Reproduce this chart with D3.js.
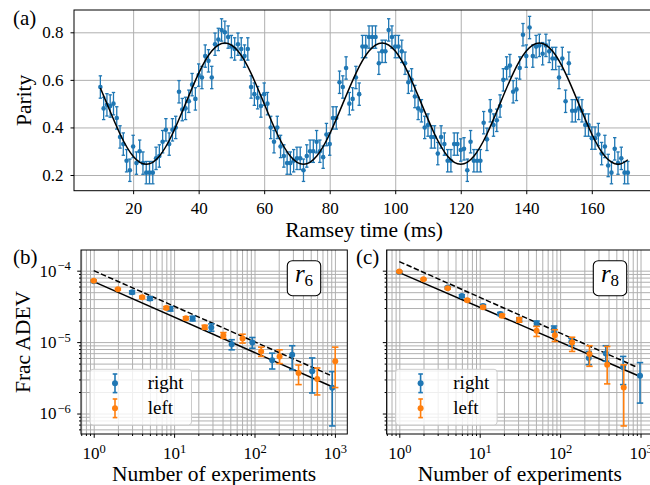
<!DOCTYPE html>
<html>
<head>
<meta charset="utf-8">
<script src="https://cdn.jsdelivr.net/npm/d3@7"></script>
<style>
  body { margin: 0; background: #fff; }
  svg { display: block; }
  svg text { font-family: "Liberation Serif", "Times New Roman", serif; }
</style>
</head>
<body>
<div id="fig"></div>
<script>
/* ---- (a) Ramsey fringe: parity vs Ramsey time ---- */
const ramseyTime = [
  10, 11, 12, 13, 14, 15, 16, 17, 18, 19, 20, 21, 22, 23, 24, 25, 26, 27, 28, 29,
  30, 31, 32, 33, 34, 35, 36, 37, 38, 39, 40, 41, 42, 43, 44, 45, 46, 47, 48, 49,
  50, 51, 52, 53, 54, 55, 56, 57, 58, 59, 60, 61, 62, 63, 64, 65, 66, 67, 68, 69,
  70, 71, 72, 73, 74, 75, 76, 77, 78, 79, 80, 81, 82, 83, 84, 85, 86, 87, 88, 89,
  90, 91, 92, 93, 94, 95, 96, 97, 98, 99, 100, 101, 102, 103, 104, 105, 106, 107, 108, 109,
  110, 111, 112, 113, 114, 115, 116, 117, 118, 119, 120, 121, 122, 123, 124, 125, 126, 127, 128, 129,
  130, 131, 132, 133, 134, 135, 136, 137, 138, 139, 140, 141, 142, 143, 144, 145, 146, 147, 148, 149,
  150, 151, 152, 153, 154, 155, 156, 157, 158, 159, 160, 161, 162, 163, 164, 165, 166, 167, 168, 169,
  170, 171
];
const parity = [
  0.57, 0.48, 0.495, 0.49, 0.50, 0.44, 0.36, 0.33, 0.26, 0.22,
  0.32, 0.25, 0.30, 0.25, 0.21, 0.21, 0.21, 0.27, 0.28, 0.34,
  0.39, 0.33, 0.39, 0.40, 0.55, 0.475, 0.48, 0.51, 0.58, 0.52,
  0.62, 0.61, 0.70, 0.68, 0.61, 0.75, 0.77, 0.81, 0.80, 0.78,
  0.74, 0.73, 0.75, 0.73, 0.70, 0.73, 0.57, 0.54, 0.525, 0.49,
  0.54, 0.50, 0.40, 0.34, 0.40, 0.32, 0.28, 0.25, 0.25, 0.26,
  0.27, 0.27, 0.22, 0.28, 0.30, 0.30, 0.34, 0.30, 0.275, 0.37,
  0.33, 0.44, 0.44, 0.59, 0.57, 0.65, 0.50, 0.52, 0.61, 0.54,
  0.74, 0.74, 0.78, 0.78, 0.78, 0.67, 0.72, 0.72, 0.81, 0.78,
  0.74, 0.74, 0.72, 0.67, 0.59, 0.60, 0.53, 0.48, 0.47, 0.40,
  0.41, 0.36, 0.36, 0.29, 0.36, 0.33, 0.26, 0.26, 0.33, 0.33,
  0.305, 0.31, 0.22, 0.34, 0.26, 0.26, 0.26, 0.42, 0.35, 0.47,
  0.41, 0.43, 0.49, 0.60, 0.65, 0.66, 0.55, 0.56, 0.65, 0.79,
  0.70, 0.82, 0.70, 0.74, 0.745, 0.71, 0.745, 0.72, 0.69, 0.69,
  0.61, 0.69, 0.51, 0.67, 0.47, 0.47, 0.48, 0.47, 0.41, 0.41,
  0.355, 0.355, 0.37, 0.29, 0.32, 0.24, 0.21, 0.31, 0.25, 0.27,
  0.21, 0.21
];
const parityErr = 0.047;

// fit curve, every 4 ms
const fitTime = [10, 12, 16, 20, 24, 28, 32, 36, 40, 44, 48, 52, 56, 60, 64, 68, 72, 76, 80, 84,
  88, 92, 96, 100, 104, 108, 112, 116, 120, 124, 128, 132, 136, 140, 144, 148, 152, 156, 160,
  164, 168, 171];
const fitParity = [0.566, 0.5, 0.3725, 0.279, 0.245, 0.279, 0.3725, 0.5, 0.6275, 0.721, 0.755,
  0.721, 0.6275, 0.5, 0.3725, 0.279, 0.245, 0.279, 0.3725, 0.5, 0.6275, 0.721, 0.755, 0.721,
  0.6275, 0.5, 0.3725, 0.279, 0.245, 0.279, 0.3725, 0.5, 0.6275, 0.721, 0.755, 0.721, 0.6275,
  0.5, 0.3725, 0.279, 0.245, 0.264];

const timeTicks = [20, 40, 60, 80, 100, 120, 140, 160];
const parityTicks = [0.2, 0.4, 0.6, 0.8];

/* ---- (b) r6 Allan deviation ---- */
const r6RightN = [1, 3, 5, 9, 17, 29, 52, 94, 166, 294, 522, 927];
const r6Right = [7.1e-5, 4.99e-5, 4.07e-5, 2.92e-5, 2.14e-5, 1.6e-5, 9.3e-6, 9.9e-6, 5.55e-6, 6.65e-6, 3.9e-6, 2.3e-6];
const r6RightLo = [6.9e-5, 4.75e-5, 3.85e-5, 2.72e-5, 1.98e-5, 1.42e-5, 7.8e-6, 8.2e-6, 4.2e-6, 4.1e-6, 1.94e-6, 6.7e-7];
const r6RightHi = [7.3e-5, 5.2e-5, 4.3e-5, 3.14e-5, 2.3e-5, 1.8e-5, 1.08e-5, 1.16e-5, 7.0e-6, 8.9e-6, 6.0e-6, 3.86e-6];

const r6LeftN = [1, 2, 4, 8, 14, 24, 41, 71, 121, 205, 353, 603, 1009];
const r6Left = [7.24e-5, 5.5e-5, 4.25e-5, 3.01e-5, 2.16e-5, 1.62e-5, 1.24e-5, 1.12e-5, 7.4e-6, 6.3e-6, 3.69e-6, 3.05e-6, 5.4e-6];
const r6LeftLo = [7.05e-5, 5.35e-5, 4.1e-5, 2.88e-5, 2.06e-5, 1.52e-5, 1.13e-5, 9.7e-6, 6.3e-6, 5.0e-6, 2.54e-6, 1.82e-6, 2.31e-6];
const r6LeftHi = [7.45e-5, 5.65e-5, 4.4e-5, 3.14e-5, 2.26e-5, 1.72e-5, 1.36e-5, 1.29e-5, 8.5e-6, 7.8e-6, 4.78e-6, 4.34e-6, 8.5e-6];

const r6SolidN = [1, 912], r6Solid = [7.03e-5, 2.39e-6];
const r6DashN = [1, 912], r6Dash = [1.0e-4, 3.37e-6];

/* ---- (c) r8 Allan deviation ---- */
const r8RightN = [1, 4, 6, 11, 18, 31, 51, 84, 138, 227, 370, 608, 986];
const r8Right = [9.6e-5, 5.8e-5, 4.43e-5, 3.21e-5, 2.48e-5, 2.07e-5, 1.82e-5, 1.53e-5, 1.01e-5, 5.98e-6, 6.95e-6, 4.48e-6, 3.37e-6];
const r8RightLo = [9.4e-5, 5.6e-5, 4.25e-5, 3.07e-5, 2.36e-5, 1.96e-5, 1.67e-5, 1.38e-5, 8.9e-6, 4.83e-6, 5.39e-6, 2.54e-6, 1.4e-6];
const r8RightHi = [9.8e-5, 6.0e-5, 4.6e-5, 3.35e-5, 2.6e-5, 2.18e-5, 1.97e-5, 1.68e-5, 1.13e-5, 7.4e-6, 8.9e-6, 6.3e-6, 5.16e-6];

const r8LeftN = [1, 2, 4, 7, 11, 19, 31, 51, 86, 141, 232, 385, 618];
const r8Left = [9.7e-5, 7.57e-5, 5.67e-5, 3.86e-5, 3.07e-5, 2.33e-5, 2.05e-5, 1.44e-5, 1.25e-5, 9.9e-6, 6.8e-6, 4.83e-6, 2.31e-6];
const r8LeftLo = [9.5e-5, 7.4e-5, 5.5e-5, 3.72e-5, 2.95e-5, 2.22e-5, 1.9e-5, 1.2e-5, 1.02e-5, 7.4e-6, 4.58e-6, 2.6e-6, 6.7e-7];
const r8LeftHi = [9.9e-5, 7.75e-5, 5.85e-5, 4.0e-5, 3.2e-5, 2.44e-5, 2.2e-5, 1.66e-5, 1.49e-5, 1.17e-5, 8.9e-6, 8.7e-6, 4.8e-6];

const r8SolidN = [1, 986], r8Solid = [9.4e-5, 3.3e-6];
const r8DashN = [1, 905], r8Dash = [1.34e-4, 4.45e-6];

const logXTicks = [1, 10, 100, 1000];
const logYTicks = [1e-6, 1e-5, 1e-4];
const seriesNames = ["right", "left"];

/* couleurs de matplotlib */
const blue = "#1f77b4", orange = "#ff7f0e", grey = "#b0b0b0";

const svg = d3.select("#fig").append("svg")
    .attr("width", 650)
    .attr("height", 485)
    .attr("viewBox", [0, 0, 650, 485]);

function styleAxis(g, size) {
  g.attr("font-family", null).attr("font-size", null);
  g.select(".domain").remove();
  g.selectAll(".tick line").attr("stroke", "#000").attr("stroke-width", 1);
  g.selectAll(".tick text").attr("fill", "#000").style("font-size", size + "px");
}

function gridLines(g, axis) {
  g.call(axis.tickFormat(""));
  g.attr("font-family", null).attr("font-size", null);
  g.select(".domain").remove();
  g.selectAll(".tick text").remove();
  g.selectAll(".tick line").attr("stroke", grey).attr("stroke-width", 1);
}

function isDecade(d) {
  const l = Math.log10(d);
  return Math.abs(l - Math.round(l)) < 1e-6;
}

// barres d'erreur verticales avec caps, puis les marqueurs par-dessus
function errorbars(g, x, y, xs, lo, hi, vals, color, r, cap, lw) {
  const pts = xs.map((d, i) => ({x: d, v: vals[i], lo: lo[i], hi: hi[i]}));
  const bars = g.append("g").attr("stroke", color).attr("stroke-width", lw);
  bars.selectAll(".bar").data(pts).join("line")
      .attr("x1", d => x(d.x)).attr("x2", d => x(d.x))
      .attr("y1", d => y(d.lo)).attr("y2", d => y(d.hi));
  bars.selectAll(".caplo").data(pts).join("line")
      .attr("x1", d => x(d.x) - cap).attr("x2", d => x(d.x) + cap)
      .attr("y1", d => y(d.lo)).attr("y2", d => y(d.lo));
  bars.selectAll(".caphi").data(pts).join("line")
      .attr("x1", d => x(d.x) - cap).attr("x2", d => x(d.x) + cap)
      .attr("y1", d => y(d.hi)).attr("y2", d => y(d.hi));
  g.append("g").selectAll("circle").data(pts).join("circle")
      .attr("cx", d => x(d.x)).attr("cy", d => y(d.v))
      .attr("r", r).attr("fill", color);
}

/* ================= panel (a) ================= */
const aL = 74, aT = 10, aB = 190.7, aR = 654.2;
const xa = d3.scaleLinear().domain([1.95, 179.05]).range([aL, aR]);
const ya = d3.scaleLinear().domain([0.134, 0.8938]).range([aB, aT]);

const ga = svg.append("g");
ga.append("g").attr("transform", `translate(0,${aB})`)
    .call(g => gridLines(g, d3.axisBottom(xa).tickValues(timeTicks).tickSize(-(aB - aT))));
ga.append("g").attr("transform", `translate(${aL},0)`)
    .call(g => gridLines(g, d3.axisLeft(ya).tickValues(parityTicks).tickSize(-(aR - aL))));

errorbars(ga, xa, ya, ramseyTime,
  parity.map(v => v - parityErr), parity.map(v => v + parityErr), parity,
  blue, 2.3, 1.7, 1.3);

ga.append("path")
    .datum(fitTime.map((t, i) => [t, fitParity[i]]))
    .attr("fill", "none")
    .attr("stroke", "#000")
    .attr("stroke-width", 1.5)
    .attr("d", d3.line().x(d => xa(d[0])).y(d => ya(d[1])).curve(d3.curveNatural));

ga.append("rect")
    .attr("x", aL).attr("y", aT).attr("width", aR - aL).attr("height", aB - aT)
    .attr("fill", "none").attr("stroke", "#000").attr("stroke-width", 1);

ga.append("g").attr("transform", `translate(0,${aB})`)
    .call(d3.axisBottom(xa).tickValues(timeTicks).tickSize(3.5).tickPadding(7.5))
    .call(g => styleAxis(g, 17));
ga.append("g").attr("transform", `translate(${aL},0)`)
    .call(d3.axisLeft(ya).tickValues(parityTicks).tickSize(3.5).tickPadding(7).tickFormat(d3.format(".1f")))
    .call(g => styleAxis(g, 17));

ga.append("text").attr("x", (aL + aR) / 2).attr("y", 237)
    .attr("text-anchor", "middle").style("font-size", "21.5px").text("Ramsey time (ms)");
ga.append("text").attr("transform", `translate(31,${(aT + aB) / 2}) rotate(-90)`)
    .attr("text-anchor", "middle").style("font-size", "21.5px").text("Parity");
ga.append("text").attr("x", 13).attr("y", 25).style("font-size", "21px").text("(a)");

/* ================= panels (b) and (c) ================= */
const bT = 250, bB = 434;
const logDomainX = [10 ** -0.158, 10 ** 3.154];
const logDomainY = [10 ** -6.2867, 10 ** -3.7105];

function adevPanel(opt) {
  const x = d3.scaleLog().domain(logDomainX).range([opt.left, opt.right]);
  const y = d3.scaleLog().domain(logDomainY).range([bB, bT]);
  const g = svg.append("g");

  const clipId = "clip" + opt.tag;
  g.append("clipPath").attr("id", clipId).append("rect")
      .attr("x", opt.left).attr("y", bT).attr("width", opt.right - opt.left).attr("height", bB - bT);

  const minorX = x.ticks().filter(d => !isDecade(d));
  const minorY = y.ticks().filter(d => !isDecade(d));

  const grid = g.append("g").attr("clip-path", `url(#${clipId})`);
  grid.append("g").attr("transform", `translate(0,${bB})`)
      .call(s => gridLines(s, d3.axisBottom(x).tickValues(minorX.concat(logXTicks)).tickSize(-(bB - bT))));
  grid.append("g").attr("transform", `translate(${opt.left},0)`)
      .call(s => gridLines(s, d3.axisLeft(y).tickValues(minorY.concat(logYTicks)).tickSize(-(opt.right - opt.left))));

  const lineGen = d3.line().x(d => x(d[0])).y(d => y(d[1]));
  g.append("path").datum(opt.solidN.map((n, i) => [n, opt.solid[i]]))
      .attr("fill", "none").attr("stroke", "#000").attr("stroke-width", 1.5).attr("d", lineGen);
  g.append("path").datum(opt.dashN.map((n, i) => [n, opt.dash[i]]))
      .attr("fill", "none").attr("stroke", "#000").attr("stroke-width", 1.5)
      .attr("stroke-dasharray", "5.5,2.4").attr("d", lineGen);

  errorbars(g, x, y, opt.rightN, opt.rightLo, opt.rightHi, opt.right_, blue, 3, 3.2, 1.6);
  errorbars(g, x, y, opt.leftN, opt.leftLo, opt.leftHi, opt.left_, orange, 3, 3.2, 1.6);

  g.append("rect")
      .attr("x", opt.left).attr("y", bT).attr("width", opt.right - opt.left).attr("height", bB - bT)
      .attr("fill", "none").attr("stroke", "#000").attr("stroke-width", 1);

  // axe x, majeur + mineur
  g.append("g").attr("transform", `translate(0,${bB})`)
      .call(d3.axisBottom(x).tickValues(minorX).tickSize(2).tickFormat(""))
      .call(s => styleAxis(s, 17));
  const xAx = g.append("g").attr("transform", `translate(0,${bB})`)
      .call(d3.axisBottom(x).tickValues(logXTicks).tickSize(3.8).tickPadding(8.8))
      .call(s => styleAxis(s, 17));
  xAx.selectAll(".tick text").text(null).each(function(d) {
    const t = d3.select(this);
    t.append("tspan").text("10");
    t.append("tspan").attr("dy", "-0.45em").style("font-size", "12.5px").text(Math.round(Math.log10(d)));
  });

  // axe y, majeur + mineur
  g.append("g").attr("transform", `translate(${opt.left},0)`)
      .call(d3.axisLeft(y).tickValues(minorY).tickSize(2).tickFormat(""))
      .call(s => styleAxis(s, 17));
  const yAx = g.append("g").attr("transform", `translate(${opt.left},0)`)
      .call(d3.axisLeft(y).tickValues(logYTicks).tickSize(3.8).tickPadding(6.5))
      .call(s => styleAxis(s, 17));
  yAx.selectAll(".tick text").text(null).each(function(d) {
    if (!opt.yLabels) return;
    const t = d3.select(this);
    t.append("tspan").text("10");
    t.append("tspan").attr("dy", "-0.5em").attr("dx", 1).style("font-size", "12.5px")
        .text("\u2212" + Math.abs(Math.round(Math.log10(d))));
  });

  g.append("text").attr("x", (opt.left + opt.right) / 2).attr("y", 481)
      .attr("text-anchor", "middle").style("font-size", "21.5px").text("Number of experiments");
  g.append("text").attr("x", opt.tagX).attr("y", 264).style("font-size", "21px").text(`(${opt.tag})`);

  // légende
  const lg = g.append("g").attr("transform", `translate(${opt.left + 9},369.3)`);
  lg.append("rect").attr("width", 101.5).attr("height", 55.7).attr("rx", 3)
      .attr("fill", "#fff").attr("fill-opacity", 0.8).attr("stroke", "#cccccc").attr("stroke-width", 1);
  [blue, orange].forEach((c, i) => {
    const cy = 14 + i * 25;
    const h = lg.append("g").attr("stroke", c).attr("stroke-width", 1.6);
    h.append("line").attr("x1", 25).attr("x2", 25).attr("y1", cy - 9.3).attr("y2", cy + 9.3);
    h.append("line").attr("x1", 22.7).attr("x2", 27.3).attr("y1", cy - 9.3).attr("y2", cy - 9.3);
    h.append("line").attr("x1", 22.7).attr("x2", 27.3).attr("y1", cy + 9.3).attr("y2", cy + 9.3);
    lg.append("circle").attr("cx", 25).attr("cy", cy).attr("r", 3).attr("fill", c);
    lg.append("text").attr("x", 57.7).attr("y", cy + 6).style("font-size", "19px").text(seriesNames[i]);
  });

  // boîte r6 / r8
  const bx = g.append("g").attr("transform", `translate(${opt.boxX},260.7)`);
  bx.append("rect").attr("width", 33.4).attr("height", 35).attr("rx", 5)
      .attr("fill", "#fff").attr("stroke", "#000").attr("stroke-width", 1.1);
  const bt = bx.append("text").attr("x", 16.7).attr("y", 21).attr("text-anchor", "middle");
  bt.append("tspan").style("font-size", "25px").style("font-style", "italic").text("r");
  bt.append("tspan").attr("dy", 4).style("font-size", "17px").text(opt.sub);
}

adevPanel({
  tag: "b", left: 81, right: 347.3, tagX: 13, boxX: 287.3, sub: "6", yLabels: true,
  rightN: r6RightN, right_: r6Right, rightLo: r6RightLo, rightHi: r6RightHi,
  leftN: r6LeftN, left_: r6Left, leftLo: r6LeftLo, leftHi: r6LeftHi,
  solidN: r6SolidN, solid: r6Solid, dashN: r6DashN, dash: r6Dash
});
adevPanel({
  tag: "c", left: 386.6, right: 652.9, tagX: 356, boxX: 593.3, sub: "8", yLabels: false,
  rightN: r8RightN, right_: r8Right, rightLo: r8RightLo, rightHi: r8RightHi,
  leftN: r8LeftN, left_: r8Left, leftLo: r8LeftLo, leftHi: r8LeftHi,
  solidN: r8SolidN, solid: r8Solid, dashN: r8DashN, dash: r8Dash
});

svg.append("text").attr("transform", "translate(30,342) rotate(-90)")
    .attr("text-anchor", "middle").style("font-size", "21.5px").text("Frac ADEV");
</script>
</body>
</html>
